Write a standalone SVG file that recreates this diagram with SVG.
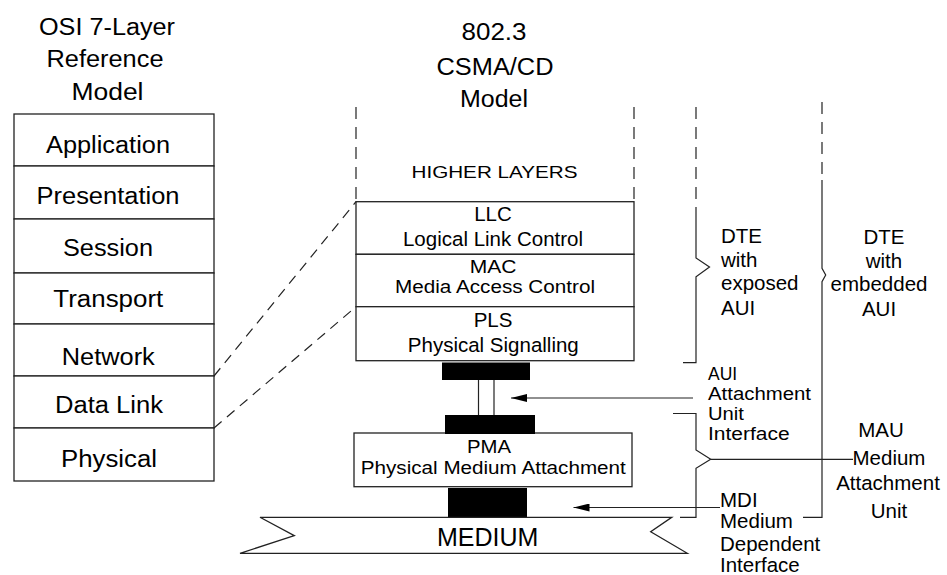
<svg xmlns="http://www.w3.org/2000/svg" width="947" height="575" viewBox="0 0 947 575">
<style>
  text { font-family: "Liberation Sans", Arial, sans-serif; fill: #000; }
  .big { font-size: 23px; }
  .mid { font-size: 20.5px; }
  .tight { font-size: 17.5px; }
  .c { text-anchor: middle; }
  .box { fill: #fff; stroke: #222; stroke-width: 1.3; }
  .ln { fill: none; stroke: #222; stroke-width: 1.2; }
  .dash { fill: none; stroke: #222; stroke-width: 1.2; stroke-dasharray: 12 8; }
  .slant { fill: none; stroke: #222; stroke-width: 1.2; stroke-dasharray: 10 7; }
  .bar { fill: #000; }
</style>
<defs>
  <marker id="ah" markerWidth="17" markerHeight="8" refX="16" refY="4" orient="auto" markerUnits="userSpaceOnUse">
    <path d="M0,0 L16,4 L0,8 z" fill="#000"/>
  </marker>
</defs>
<rect width="947" height="575" fill="#fff"/>

<!-- OSI title -->
<g id="osi-title">
  <text class="big c" x="107" y="35" textLength="136" lengthAdjust="spacingAndGlyphs">OSI 7-Layer</text>
  <text class="big c" x="105" y="67" textLength="117" lengthAdjust="spacingAndGlyphs">Reference</text>
  <text class="big c" x="107.5" y="100" textLength="72" lengthAdjust="spacingAndGlyphs">Model</text>
</g>

<!-- OSI stack -->
<g id="osi-application">
  <rect class="box" x="14" y="114" width="200" height="52"/>
  <text class="big c" x="108" y="153" textLength="124" lengthAdjust="spacingAndGlyphs">Application</text>
</g>
<g id="osi-presentation">
  <rect class="box" x="14" y="166" width="200" height="53"/>
  <text class="big c" x="108" y="204" textLength="143" lengthAdjust="spacingAndGlyphs">Presentation</text>
</g>
<g id="osi-session">
  <rect class="box" x="14" y="219" width="200" height="54"/>
  <text class="big c" x="108" y="255.5" textLength="90" lengthAdjust="spacingAndGlyphs">Session</text>
</g>
<g id="osi-transport">
  <rect class="box" x="14" y="273" width="200" height="51"/>
  <text class="big c" x="108.3" y="307" textLength="110" lengthAdjust="spacingAndGlyphs">Transport</text>
</g>
<g id="osi-network">
  <rect class="box" x="14" y="324" width="200" height="52"/>
  <text class="big c" x="108.3" y="365" textLength="93" lengthAdjust="spacingAndGlyphs">Network</text>
</g>
<g id="osi-datalink">
  <rect class="box" x="14" y="376" width="200" height="52"/>
  <text class="big c" x="109" y="413" textLength="108" lengthAdjust="spacingAndGlyphs">Data Link</text>
</g>
<g id="osi-physical">
  <rect class="box" x="14" y="428" width="200" height="53"/>
  <text class="big c" x="109" y="467" textLength="96" lengthAdjust="spacingAndGlyphs">Physical</text>
</g>

<!-- 802.3 title -->
<g id="csma-title">
  <text class="big c" x="494" y="40" textLength="65" lengthAdjust="spacingAndGlyphs">802.3</text>
  <text class="big c" x="495" y="75" textLength="117" lengthAdjust="spacingAndGlyphs">CSMA/CD</text>
  <text class="big c" x="494" y="107" textLength="68" lengthAdjust="spacingAndGlyphs">Model</text>
</g>

<g id="higher-layers">
  <line class="dash" x1="356" y1="107" x2="356" y2="201"/>
  <line class="dash" x1="634" y1="107" x2="634" y2="201"/>
  <text class="c" x="494.5" y="178" font-size="17" textLength="166" lengthAdjust="spacingAndGlyphs">HIGHER LAYERS</text>
</g>

<g id="llc">
  <rect class="box" x="356" y="201.7" width="278" height="52.6"/>
  <text class="mid c" x="493" y="220.7">LLC</text>
  <text class="mid c" x="493" y="246">Logical Link Control</text>
</g>
<g id="mac">
  <rect class="box" x="356" y="254.3" width="278" height="52.4"/>
  <text class="tight c" x="493" y="272.5" textLength="46.7" lengthAdjust="spacingAndGlyphs">MAC</text>
  <text class="tight c" x="495" y="293" textLength="200" lengthAdjust="spacingAndGlyphs">Media Access Control</text>
</g>
<g id="pls">
  <rect class="box" x="356" y="306.7" width="278" height="54"/>
  <text class="mid c" x="493" y="326.7">PLS</text>
  <text class="mid c" x="493.3" y="352">Physical Signalling</text>
</g>

<g id="aui-cable">
  <rect class="bar" x="442" y="362.5" width="88" height="17.5"/>
  <line class="ln" x1="478.5" y1="380" x2="478.5" y2="415"/>
  <line class="ln" x1="494" y1="380" x2="494" y2="415"/>
</g>

<g id="pma">
  <rect class="box" x="354" y="433" width="278" height="53.7"/>
  <rect class="bar" x="445" y="415" width="90" height="19"/>
  <text class="tight c" x="489" y="452.5" textLength="44" lengthAdjust="spacingAndGlyphs">PMA</text>
  <text class="tight c" x="493.3" y="473.5" textLength="265" lengthAdjust="spacingAndGlyphs">Physical Medium Attachment</text>
</g>

<g id="mdi-connector">
  <rect class="bar" x="448" y="488" width="79" height="29.3"/>
</g>

<g id="medium">
  <polygon class="box" points="260,517.3 294.3,535.7 240,553.3 687.3,553.3 650.7,531.7 671.7,517.3"/>
  <text class="c" x="487.7" y="546" font-size="25">MEDIUM</text>
</g>

<!-- right labels -->
<g id="dte-exposed">
  <text class="mid" x="721" y="243">DTE</text>
  <text class="mid" x="721" y="267">with</text>
  <text class="mid" x="721" y="290">exposed</text>
  <text class="mid" x="721" y="315">AUI</text>
</g>
<g id="dte-embedded">
  <text class="mid c" x="884" y="243.5">DTE</text>
  <text class="mid c" x="884" y="267.5">with</text>
  <text class="mid c" x="879" y="291">embedded</text>
  <text class="mid c" x="879" y="316">AUI</text>
</g>
<g id="aui-label">
  <text class="tight" x="708" y="379.5">AUI</text>
  <text class="tight" x="708" y="399.8" textLength="103" lengthAdjust="spacingAndGlyphs">Attachment</text>
  <text class="tight" x="708" y="420.1" textLength="36" lengthAdjust="spacingAndGlyphs">Unit</text>
  <text class="tight" x="708" y="440.4" textLength="81.7" lengthAdjust="spacingAndGlyphs">Interface</text>
</g>
<g id="mau-label">
  <text class="mid c" x="881" y="437">MAU</text>
  <text class="mid c" x="889" y="465">Medium</text>
  <text class="mid c" x="888" y="490">Attachment</text>
  <text class="mid c" x="889" y="518">Unit</text>
</g>
<g id="mdi-label">
  <text class="mid" x="720" y="506.7">MDI</text>
  <text class="mid" x="720" y="528.3">Medium</text>
  <text class="mid" x="720" y="551">Dependent</text>
  <text class="mid" x="720" y="572">Interface</text>
</g>

<!-- connectors -->
<g id="connectors">
  <line class="slant" x1="214" y1="376" x2="356" y2="201.7"/>
  <line class="slant" x1="214" y1="428" x2="356" y2="306.7"/>

  <line class="dash" x1="696" y1="107" x2="696" y2="215"/>
  <path class="ln" d="M696,215 L696,258 L709.5,267 L696,276.7 L696,362.7 L683,362.7"/>

  <line class="dash" x1="822" y1="102" x2="822" y2="180"/>
  <path class="ln" d="M822,180 L822,268.3 L825.7,275 L822,281.7 L822,517.3 L803,517.3"/>

  <path class="ln" d="M673,413.5 L696,413.5 L696,450 L710.7,459.3 L696,468.3 L696,517.3 L680,517.3"/>
  <line class="ln" x1="710.7" y1="459.3" x2="853" y2="459.3"/>

  <line class="ln" x1="693" y1="398" x2="511" y2="398" marker-end="url(#ah)"/>
  <line class="ln" x1="720" y1="507.5" x2="573.5" y2="507.5" marker-end="url(#ah)"/>
</g>
</svg>
